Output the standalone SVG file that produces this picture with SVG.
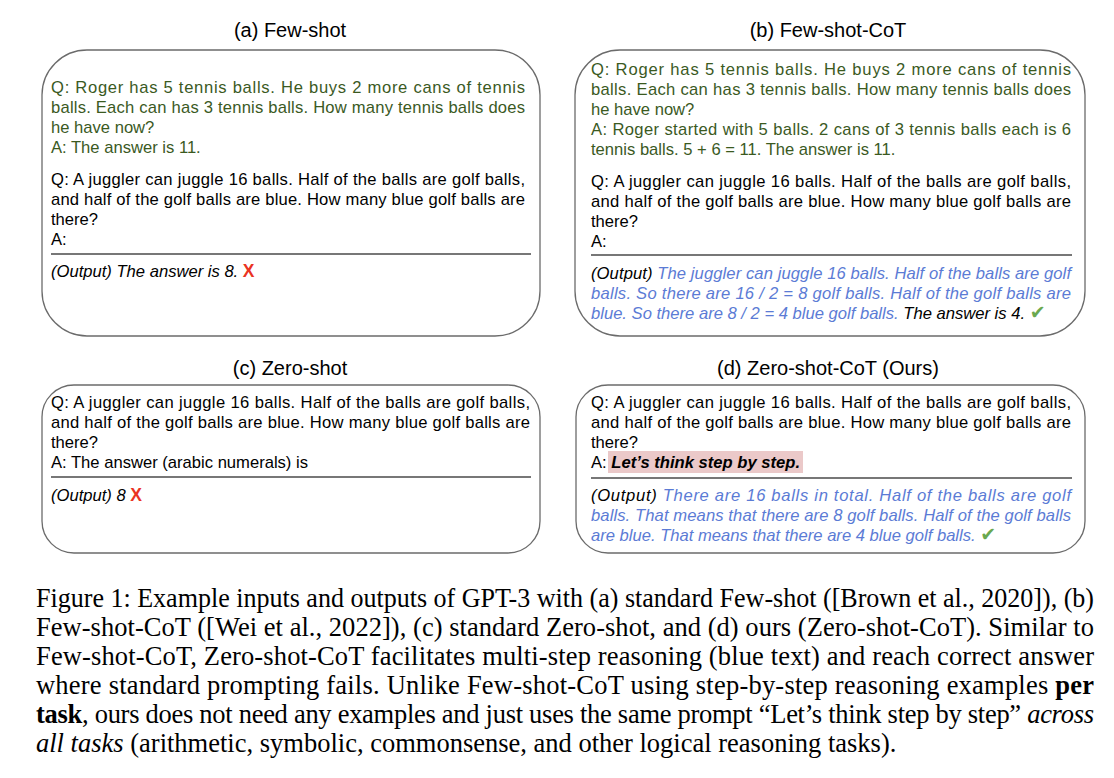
<svg xmlns="http://www.w3.org/2000/svg" width="1114" height="778" viewBox="0 0 1114 778">
<style>
.t{font-family:"Liberation Sans",Arial,sans-serif;font-size:16.6px;fill:#000}
.g{fill:#3b5a1f}
.bl{fill:#5b7bd5;font-style:italic}
.it{font-style:italic}
.x{fill:#ea3323;font-weight:bold;font-size:17.5px}
.ck{fill:#6aa84f;font-family:"DejaVu Sans",sans-serif;font-size:19px}
.ttl{font-family:"Liberation Sans",Arial,sans-serif;font-size:20px;fill:#000;text-anchor:middle}
.box{fill:#fff;stroke:#6b6b6b;stroke-width:1.3}
.sep{stroke:#4a4a4a;stroke-width:1.5}
.cap{font-family:"Liberation Serif","Times New Roman",serif;font-size:26.5px;fill:#000}
.bd{font-weight:bold}
</style>
<rect width="1114" height="778" fill="#fff"/>

<g id="panel-a">
<text class="ttl" x="290" y="37">(a) Few-shot</text>
<rect class="box" x="42" y="50" width="498" height="286" rx="45" ry="45"/>
<text class="t g" x="51" y="93" textLength="474" lengthAdjust="spacing">Q: Roger has 5 tennis balls. He buys 2 more cans of tennis</text>
<text class="t g" x="51" y="113" textLength="474" lengthAdjust="spacing">balls. Each can has 3 tennis balls. How many tennis balls does</text>
<text class="t g" x="51" y="133">he have now?</text>
<text class="t g" x="51" y="153">A: The answer is 11.</text>
<text class="t" x="51" y="185" textLength="474" lengthAdjust="spacing">Q: A juggler can juggle 16 balls. Half of the balls are golf balls,</text>
<text class="t" x="51" y="205" textLength="474" lengthAdjust="spacing">and half of the golf balls are blue. How many blue golf balls are</text>
<text class="t" x="51" y="225">there?</text>
<text class="t" x="51" y="245">A:</text>
<line class="sep" x1="51" y1="254" x2="531" y2="254"/>
<text class="t" x="51" y="277"><tspan class="it">(Output) The answer is 8.</tspan> <tspan class="x">X</tspan></text>
</g>

<g id="panel-b">
<text class="ttl" x="828" y="37">(b) Few-shot-CoT</text>
<rect class="box" x="575" y="50" width="510" height="286" rx="45" ry="45"/>
<text class="t g" x="591" y="75" textLength="480" lengthAdjust="spacing">Q: Roger has 5 tennis balls. He buys 2 more cans of tennis</text>
<text class="t g" x="591" y="95" textLength="480" lengthAdjust="spacing">balls. Each can has 3 tennis balls. How many tennis balls does</text>
<text class="t g" x="591" y="115">he have now?</text>
<text class="t g" x="591" y="135" textLength="480" lengthAdjust="spacing">A: Roger started with 5 balls. 2 cans of 3 tennis balls each is 6</text>
<text class="t g" x="591" y="155">tennis balls. 5 + 6 = 11. The answer is 11.</text>
<text class="t" x="591" y="187" textLength="480" lengthAdjust="spacing">Q: A juggler can juggle 16 balls. Half of the balls are golf balls,</text>
<text class="t" x="591" y="207" textLength="480" lengthAdjust="spacing">and half of the golf balls are blue. How many blue golf balls are</text>
<text class="t" x="591" y="227">there?</text>
<text class="t" x="591" y="247">A:</text>
<line class="sep" x1="591" y1="255" x2="1072" y2="255"/>
<text class="t" x="591" y="279" textLength="480" lengthAdjust="spacing"><tspan class="it">(Output)</tspan> <tspan class="bl">The juggler can juggle 16 balls. Half of the balls are golf</tspan></text>
<text class="t bl" x="591" y="299" textLength="480" lengthAdjust="spacing">balls. So there are 16 / 2 = 8 golf balls. Half of the golf balls are</text>
<text class="t" x="591" y="319"><tspan class="bl">blue. So there are 8 / 2 = 4 blue golf balls.</tspan> <tspan class="it">The answer is 4.</tspan> <tspan class="ck">✔</tspan></text>
</g>

<g id="panel-c">
<text class="ttl" x="290" y="375">(c) Zero-shot</text>
<rect class="box" x="42" y="385" width="498" height="168" rx="32" ry="32"/>
<text class="t" x="51" y="408" textLength="479" lengthAdjust="spacing">Q: A juggler can juggle 16 balls. Half of the balls are golf balls,</text>
<text class="t" x="51" y="428" textLength="479" lengthAdjust="spacing">and half of the golf balls are blue. How many blue golf balls are</text>
<text class="t" x="51" y="448">there?</text>
<text class="t" x="51" y="468">A: The answer (arabic numerals) is</text>
<line class="sep" x1="51" y1="477" x2="531" y2="477"/>
<text class="t" x="51" y="501"><tspan class="it">(Output) 8</tspan> <tspan class="x">X</tspan></text>
</g>

<g id="panel-d">
<text class="ttl" x="828" y="375">(d) Zero-shot-CoT (Ours)</text>
<rect class="box" x="576" y="385" width="509" height="168" rx="32" ry="32"/>
<rect x="608" y="451" width="195" height="22" fill="#ebc9c9"/>
<text class="t" x="591" y="408" textLength="480" lengthAdjust="spacing">Q: A juggler can juggle 16 balls. Half of the balls are golf balls,</text>
<text class="t" x="591" y="428" textLength="480" lengthAdjust="spacing">and half of the golf balls are blue. How many blue golf balls are</text>
<text class="t" x="591" y="448">there?</text>
<text class="t" x="591" y="468">A: <tspan class="it bd">Let’s think step by step.</tspan></text>
<line class="sep" x1="591" y1="478" x2="1072" y2="478"/>
<text class="t" x="591" y="501" textLength="480" lengthAdjust="spacing"><tspan class="it">(Output)</tspan> <tspan class="bl">There are 16 balls in total. Half of the balls are golf</tspan></text>
<text class="t bl" x="591" y="521" textLength="480" lengthAdjust="spacing">balls. That means that there are 8 golf balls. Half of the golf balls</text>
<text class="t" x="591" y="541"><tspan class="bl">are blue. That means that there are 4 blue golf balls.</tspan> <tspan class="ck">✔</tspan></text>
</g>

<g id="caption">
<text class="cap" x="36" y="607" textLength="1058" lengthAdjust="spacingAndGlyphs">Figure 1: Example inputs and outputs of GPT-3 with (a) standard Few-shot ([Brown et al., 2020]), (b)</text>
<text class="cap" x="36" y="636" textLength="1058" lengthAdjust="spacing">Few-shot-CoT ([Wei et al., 2022]), (c) standard Zero-shot, and (d) ours (Zero-shot-CoT). Similar to</text>
<text class="cap" x="36" y="665" textLength="1058" lengthAdjust="spacing">Few-shot-CoT, Zero-shot-CoT facilitates multi-step reasoning (blue text) and reach correct answer</text>
<text class="cap" x="36" y="694" textLength="1058" lengthAdjust="spacing">where standard prompting fails. Unlike Few-shot-CoT using step-by-step reasoning examples <tspan class="bd">per</tspan></text>
<text class="cap" x="36" y="723" textLength="1058" lengthAdjust="spacing"><tspan class="bd">task</tspan>, ours does not need any examples and just uses the same prompt “Let’s think step by step” <tspan class="it">across</tspan></text>
<text class="cap" x="36" y="752"><tspan class="it">all tasks</tspan> (arithmetic, symbolic, commonsense, and other logical reasoning tasks).</text>
</g>
</svg>
